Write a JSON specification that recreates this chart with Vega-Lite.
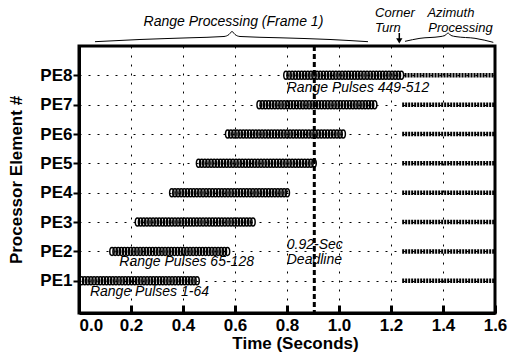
{
  "$schema": "https://vega.github.io/schema/vega-lite/v6.json",
  "width": 416,
  "height": 267,
  "autosize": {"type": "none"},
  "padding": {"left": 79, "top": 46, "right": 17, "bottom": 49},
  "background": "white",
  "config": {
    "font": "Liberation Sans",
    "view": {"stroke": "black", "strokeWidth": 3},
    "axis": {
      "domainColor": "black", "domainWidth": 3,
      "tickColor": "black", "labelColor": "black", "titleColor": "black",
      "gridColor": "black", "gridDash": [2, 7], "gridWidth": 1, "gridOpacity": 1,
      "labelFontSize": 17, "labelFontWeight": "bold",
      "titleFontSize": 17, "titleFontWeight": "bold"
    }
  },
  "datasets": {
    "range": [
      {"pe":1,"t":0.010},{"pe":1,"t":0.022},{"pe":1,"t":0.034},{"pe":1,"t":0.046},{"pe":1,"t":0.058},{"pe":1,"t":0.070},{"pe":1,"t":0.082},{"pe":1,"t":0.094},{"pe":1,"t":0.106},{"pe":1,"t":0.118},{"pe":1,"t":0.130},{"pe":1,"t":0.142},{"pe":1,"t":0.154},{"pe":1,"t":0.166},{"pe":1,"t":0.178},{"pe":1,"t":0.190},{"pe":1,"t":0.202},{"pe":1,"t":0.214},{"pe":1,"t":0.226},{"pe":1,"t":0.238},{"pe":1,"t":0.250},{"pe":1,"t":0.262},{"pe":1,"t":0.274},{"pe":1,"t":0.286},{"pe":1,"t":0.298},{"pe":1,"t":0.310},{"pe":1,"t":0.322},{"pe":1,"t":0.334},{"pe":1,"t":0.346},{"pe":1,"t":0.358},{"pe":1,"t":0.370},{"pe":1,"t":0.382},{"pe":1,"t":0.394},{"pe":1,"t":0.406},{"pe":1,"t":0.418},{"pe":1,"t":0.430},{"pe":1,"t":0.442},{"pe":1,"t":0.454},
      {"pe":2,"t":0.127},{"pe":2,"t":0.139},{"pe":2,"t":0.151},{"pe":2,"t":0.163},{"pe":2,"t":0.175},{"pe":2,"t":0.187},{"pe":2,"t":0.199},{"pe":2,"t":0.211},{"pe":2,"t":0.223},{"pe":2,"t":0.235},{"pe":2,"t":0.247},{"pe":2,"t":0.259},{"pe":2,"t":0.271},{"pe":2,"t":0.283},{"pe":2,"t":0.295},{"pe":2,"t":0.307},{"pe":2,"t":0.319},{"pe":2,"t":0.331},{"pe":2,"t":0.343},{"pe":2,"t":0.355},{"pe":2,"t":0.367},{"pe":2,"t":0.379},{"pe":2,"t":0.391},{"pe":2,"t":0.403},{"pe":2,"t":0.415},{"pe":2,"t":0.427},{"pe":2,"t":0.439},{"pe":2,"t":0.451},{"pe":2,"t":0.463},{"pe":2,"t":0.475},{"pe":2,"t":0.487},{"pe":2,"t":0.499},{"pe":2,"t":0.511},{"pe":2,"t":0.523},{"pe":2,"t":0.535},{"pe":2,"t":0.547},{"pe":2,"t":0.559},{"pe":2,"t":0.571},
      {"pe":3,"t":0.225},{"pe":3,"t":0.237},{"pe":3,"t":0.249},{"pe":3,"t":0.261},{"pe":3,"t":0.273},{"pe":3,"t":0.285},{"pe":3,"t":0.297},{"pe":3,"t":0.309},{"pe":3,"t":0.321},{"pe":3,"t":0.333},{"pe":3,"t":0.345},{"pe":3,"t":0.357},{"pe":3,"t":0.369},{"pe":3,"t":0.381},{"pe":3,"t":0.393},{"pe":3,"t":0.405},{"pe":3,"t":0.417},{"pe":3,"t":0.429},{"pe":3,"t":0.441},{"pe":3,"t":0.453},{"pe":3,"t":0.465},{"pe":3,"t":0.477},{"pe":3,"t":0.489},{"pe":3,"t":0.501},{"pe":3,"t":0.513},{"pe":3,"t":0.525},{"pe":3,"t":0.537},{"pe":3,"t":0.549},{"pe":3,"t":0.561},{"pe":3,"t":0.573},{"pe":3,"t":0.585},{"pe":3,"t":0.597},{"pe":3,"t":0.609},{"pe":3,"t":0.621},{"pe":3,"t":0.633},{"pe":3,"t":0.645},{"pe":3,"t":0.657},{"pe":3,"t":0.669},
      {"pe":4,"t":0.357},{"pe":4,"t":0.369},{"pe":4,"t":0.381},{"pe":4,"t":0.393},{"pe":4,"t":0.405},{"pe":4,"t":0.417},{"pe":4,"t":0.429},{"pe":4,"t":0.441},{"pe":4,"t":0.453},{"pe":4,"t":0.465},{"pe":4,"t":0.477},{"pe":4,"t":0.489},{"pe":4,"t":0.501},{"pe":4,"t":0.513},{"pe":4,"t":0.525},{"pe":4,"t":0.537},{"pe":4,"t":0.549},{"pe":4,"t":0.561},{"pe":4,"t":0.573},{"pe":4,"t":0.585},{"pe":4,"t":0.597},{"pe":4,"t":0.609},{"pe":4,"t":0.621},{"pe":4,"t":0.633},{"pe":4,"t":0.645},{"pe":4,"t":0.657},{"pe":4,"t":0.669},{"pe":4,"t":0.681},{"pe":4,"t":0.693},{"pe":4,"t":0.705},{"pe":4,"t":0.717},{"pe":4,"t":0.729},{"pe":4,"t":0.741},{"pe":4,"t":0.753},{"pe":4,"t":0.765},{"pe":4,"t":0.777},{"pe":4,"t":0.789},{"pe":4,"t":0.801},
      {"pe":5,"t":0.460},{"pe":5,"t":0.472},{"pe":5,"t":0.484},{"pe":5,"t":0.496},{"pe":5,"t":0.508},{"pe":5,"t":0.520},{"pe":5,"t":0.532},{"pe":5,"t":0.544},{"pe":5,"t":0.556},{"pe":5,"t":0.568},{"pe":5,"t":0.580},{"pe":5,"t":0.592},{"pe":5,"t":0.604},{"pe":5,"t":0.616},{"pe":5,"t":0.628},{"pe":5,"t":0.640},{"pe":5,"t":0.652},{"pe":5,"t":0.664},{"pe":5,"t":0.676},{"pe":5,"t":0.688},{"pe":5,"t":0.700},{"pe":5,"t":0.712},{"pe":5,"t":0.724},{"pe":5,"t":0.736},{"pe":5,"t":0.748},{"pe":5,"t":0.760},{"pe":5,"t":0.772},{"pe":5,"t":0.784},{"pe":5,"t":0.796},{"pe":5,"t":0.808},{"pe":5,"t":0.820},{"pe":5,"t":0.832},{"pe":5,"t":0.844},{"pe":5,"t":0.856},{"pe":5,"t":0.868},{"pe":5,"t":0.880},{"pe":5,"t":0.892},{"pe":5,"t":0.904},
      {"pe":6,"t":0.572},{"pe":6,"t":0.584},{"pe":6,"t":0.596},{"pe":6,"t":0.608},{"pe":6,"t":0.620},{"pe":6,"t":0.632},{"pe":6,"t":0.644},{"pe":6,"t":0.656},{"pe":6,"t":0.668},{"pe":6,"t":0.680},{"pe":6,"t":0.692},{"pe":6,"t":0.704},{"pe":6,"t":0.716},{"pe":6,"t":0.728},{"pe":6,"t":0.740},{"pe":6,"t":0.752},{"pe":6,"t":0.764},{"pe":6,"t":0.776},{"pe":6,"t":0.788},{"pe":6,"t":0.800},{"pe":6,"t":0.812},{"pe":6,"t":0.824},{"pe":6,"t":0.836},{"pe":6,"t":0.848},{"pe":6,"t":0.860},{"pe":6,"t":0.872},{"pe":6,"t":0.884},{"pe":6,"t":0.896},{"pe":6,"t":0.908},{"pe":6,"t":0.920},{"pe":6,"t":0.932},{"pe":6,"t":0.944},{"pe":6,"t":0.956},{"pe":6,"t":0.968},{"pe":6,"t":0.980},{"pe":6,"t":0.992},{"pe":6,"t":1.004},{"pe":6,"t":1.016},
      {"pe":7,"t":0.693},{"pe":7,"t":0.705},{"pe":7,"t":0.717},{"pe":7,"t":0.729},{"pe":7,"t":0.741},{"pe":7,"t":0.753},{"pe":7,"t":0.765},{"pe":7,"t":0.777},{"pe":7,"t":0.789},{"pe":7,"t":0.801},{"pe":7,"t":0.813},{"pe":7,"t":0.825},{"pe":7,"t":0.837},{"pe":7,"t":0.849},{"pe":7,"t":0.861},{"pe":7,"t":0.873},{"pe":7,"t":0.885},{"pe":7,"t":0.897},{"pe":7,"t":0.909},{"pe":7,"t":0.921},{"pe":7,"t":0.933},{"pe":7,"t":0.945},{"pe":7,"t":0.957},{"pe":7,"t":0.969},{"pe":7,"t":0.981},{"pe":7,"t":0.993},{"pe":7,"t":1.005},{"pe":7,"t":1.017},{"pe":7,"t":1.029},{"pe":7,"t":1.041},{"pe":7,"t":1.053},{"pe":7,"t":1.065},{"pe":7,"t":1.077},{"pe":7,"t":1.089},{"pe":7,"t":1.101},{"pe":7,"t":1.113},{"pe":7,"t":1.125},{"pe":7,"t":1.137},
      {"pe":8,"t":0.796},{"pe":8,"t":0.808},{"pe":8,"t":0.820},{"pe":8,"t":0.832},{"pe":8,"t":0.844},{"pe":8,"t":0.856},{"pe":8,"t":0.868},{"pe":8,"t":0.880},{"pe":8,"t":0.892},{"pe":8,"t":0.904},{"pe":8,"t":0.916},{"pe":8,"t":0.928},{"pe":8,"t":0.940},{"pe":8,"t":0.952},{"pe":8,"t":0.964},{"pe":8,"t":0.976},{"pe":8,"t":0.988},{"pe":8,"t":1.000},{"pe":8,"t":1.012},{"pe":8,"t":1.024},{"pe":8,"t":1.036},{"pe":8,"t":1.048},{"pe":8,"t":1.060},{"pe":8,"t":1.072},{"pe":8,"t":1.084},{"pe":8,"t":1.096},{"pe":8,"t":1.108},{"pe":8,"t":1.120},{"pe":8,"t":1.132},{"pe":8,"t":1.144},{"pe":8,"t":1.156},{"pe":8,"t":1.168},{"pe":8,"t":1.180},{"pe":8,"t":1.192},{"pe":8,"t":1.204},{"pe":8,"t":1.216},{"pe":8,"t":1.228},{"pe":8,"t":1.240}
    ],
    "azimuth": [
      {"pe":1,"t0":1.243,"t1":1.598},{"pe":2,"t0":1.243,"t1":1.598},{"pe":3,"t0":1.243,"t1":1.598},{"pe":4,"t0":1.243,"t1":1.598},
      {"pe":5,"t0":1.243,"t1":1.598},{"pe":6,"t0":1.243,"t1":1.598},{"pe":7,"t0":1.243,"t1":1.598},{"pe":8,"t0":1.252,"t1":1.598}
    ],
    "notes": [
      {"t":0.042,"y":0.626,"label":"Range Pulses 1-64"},
      {"t":0.155,"y":1.628,"label":"Range Pulses 65-128"},
      {"t":0.799,"y":7.558,"label":"Range Pulses 449-512"},
      {"t":0.799,"y":2.218,"label":"0.92-Sec"},
      {"t":0.799,"y":1.706,"label":"Deadline"}
    ],
    "top": [
      {"t":0.594,"y":9.682,"label":"Range Processing (Frame 1)","al":"center","fs":14},
      {"t":1.1385,"y":9.989,"label":"Corner","al":"left","fs":13},
      {"t":1.1385,"y":9.494,"label":"Turn","al":"left","fs":13},
      {"t":1.34,"y":9.989,"label":"Azimuth","al":"left","fs":13},
      {"t":1.3435,"y":9.494,"label":"Processing","al":"left","fs":13}
    ],
    "braces": [
      {"b":"range","t":0.0615,"y":9.147},{"b":"range","t":0.2346,"y":9.222},{"b":"range","t":0.4269,"y":9.280},{"b":"range","t":0.5577,"y":9.324},{"b":"range","t":0.5769,"y":9.392},{"b":"range","t":0.5885,"y":9.494},{"b":"range","t":0.6,"y":9.392},{"b":"range","t":0.6192,"y":9.324},{"b":"range","t":0.7731,"y":9.280},{"b":"range","t":0.9654,"y":9.222},{"b":"range","t":1.1115,"y":9.147},
      {"b":"az","t":1.2538,"y":9.159},{"b":"az","t":1.3115,"y":9.262},{"b":"az","t":1.3885,"y":9.320},{"b":"az","t":1.4077,"y":9.358},{"b":"az","t":1.4192,"y":9.443},{"b":"az","t":1.4308,"y":9.358},{"b":"az","t":1.45,"y":9.320},{"b":"az","t":1.5231,"y":9.262},{"b":"az","t":1.5935,"y":9.125}
    ],
    "arrow": [{"t":1.2319,"y1":9.443,"y2":9.205,"yh":9.175}],
    "deadline": [{"t":0.905}]
  },
  "layer": [
    {
      "data": {"name": "range"},
      "mark": {"type": "point", "shape": "M0,-1A0.55,1 0 1,1 0,1A0.55,1 0 1,1 0,-1Z", "size": 64, "filled": false, "stroke": "black", "strokeWidth": 1.5, "opacity": 1},
      "encoding": {
        "x": {"field": "t", "type": "quantitative", "scale": {"domain": [0, 1.6], "nice": false, "zero": false},
          "axis": {"title": "Time (Seconds)", "values": [0, 0.2, 0.4, 0.6, 0.8, 1.0, 1.2, 1.4, 1.6], "format": ".1f", "tickCount": 20,
            "tickSize": -8, "tickWidth": 3, "labelPadding": 12, "labelOverlap": false, "labelFlush": false,
            "labelAlign": {"condition": {"test": "datum.value == 0", "value": "left"}, "value": "center"},
            "titlePadding": 2, "titleX": 216}},
        "y": {"field": "pe", "type": "quantitative", "scale": {"domain": [-0.1, 9.0], "nice": false, "zero": false},
          "axis": {"title": "Processor Element #", "values": [1, 2, 3, 4, 5, 6, 7, 8], "tickCount": 20, "labelExpr": "'PE' + datum.value",
            "labelOverlap": false, "labelFlush": false,
            "tickSize": 6, "tickWidth": 2, "labelPadding": 1, "titlePadding": 14}}
      }
    },
    {
      "data": {"name": "azimuth"},
      "mark": {"type": "rule", "stroke": "black", "strokeWidth": 4.5, "strokeDash": [2, 1]},
      "encoding": {"x": {"field": "t0", "type": "quantitative"}, "x2": {"field": "t1"}, "y": {"field": "pe", "type": "quantitative"}}
    },
    {
      "data": {"name": "deadline"},
      "mark": {"type": "rule", "stroke": "black", "strokeWidth": 3, "strokeDash": [5, 3]},
      "encoding": {"x": {"field": "t", "type": "quantitative"}}
    },
    {
      "data": {"name": "notes"},
      "mark": {"type": "text", "fontSize": 14, "fontStyle": "italic", "align": "left", "baseline": "middle", "color": "black"},
      "encoding": {"x": {"field": "t", "type": "quantitative"}, "y": {"field": "y", "type": "quantitative"}, "text": {"field": "label"}}
    },
    {
      "data": {"name": "top"},
      "mark": {"type": "text", "fontStyle": "italic", "baseline": "alphabetic", "color": "black", "align": {"expr": "datum.al"}, "fontSize": {"expr": "datum.fs"}},
      "encoding": {"x": {"field": "t", "type": "quantitative"}, "y": {"field": "y", "type": "quantitative"}, "text": {"field": "label"}}
    },
    {
      "data": {"name": "braces"},
      "mark": {"type": "line", "stroke": "black", "strokeWidth": 1, "interpolate": "monotone"},
      "encoding": {"x": {"field": "t", "type": "quantitative"}, "y": {"field": "y", "type": "quantitative"}, "detail": {"field": "b"}}
    },
    {
      "data": {"name": "arrow"},
      "mark": {"type": "rule", "stroke": "black", "strokeWidth": 1.5},
      "encoding": {"x": {"field": "t", "type": "quantitative"}, "y": {"field": "y1", "type": "quantitative"}, "y2": {"field": "y2"}}
    },
    {
      "data": {"name": "arrow"},
      "mark": {"type": "point", "shape": "triangle-down", "filled": true, "color": "black", "size": 40, "opacity": 1},
      "encoding": {"x": {"field": "t", "type": "quantitative"}, "y": {"field": "yh", "type": "quantitative"}}
    }
  ]
}
